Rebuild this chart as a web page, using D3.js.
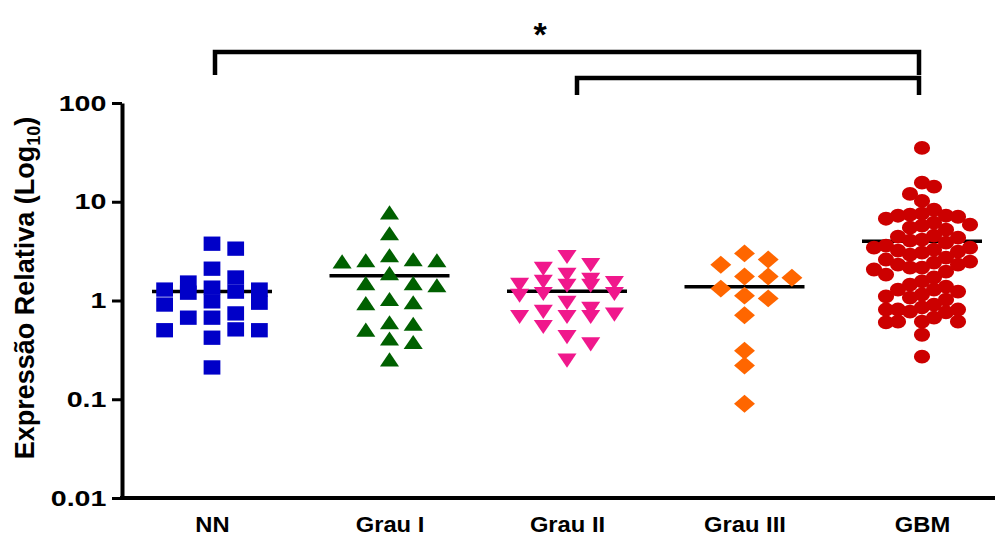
<!DOCTYPE html>
<html>
<head>
<meta charset="utf-8">
<script src="https://cdn.jsdelivr.net/npm/d3@7"></script>
<style>
  body { margin: 0; background: #fff; }
  text { font-family: "Liberation Sans", Arial, sans-serif; font-weight: bold; fill: #000; }
</style>
</head>
<body>
<div id="container"></div>
<script>
// data
let groups = ["NN", "Grau I", "Grau II", "Grau III", "GBM"];
let nnValues = [3.76, 3.35, 2.10, 1.52, 1.71, 1.29, 1.23, 1.20, 1.29, 1.35, 0.98, 0.91, 0.95, 0.67, 0.74, 0.67, 0.51, 0.50, 0.42, 0.50, 0.21];
let grauIValues = [7.39, 4.54, 2.72, 2.42, 2.36, 2.42, 2.48, 1.79, 1.42, 1.42, 1.35, 0.98, 0.89, 0.91, 0.57, 0.48, 0.55, 0.39, 0.36, 0.24];
let grauIIValues = [2.91, 2.21, 2.42, 1.92, 1.71, 1.49, 1.59, 1.63, 1.49, 1.52, 1.18, 1.23, 1.23, 1.00, 0.87, 0.72, 0.76, 0.81, 0.72, 0.72, 0.57, 0.45, 0.38, 0.26];
let grauIIIValues = [3.0, 2.3, 2.6, 1.75, 1.7, 1.75, 1.32, 1.12, 1.05, 0.71, 0.31, 0.22, 0.09];
let gbmValues = [35.1, 15.6, 14.2, 12.0, 10.2, 8.30, 7.57, 7.22, 7.22, 7.05, 7.39, 6.73, 6.14, 5.72, 5.46, 5.21, 5.86,
  4.43, 4.33, 4.13, 3.85, 4.04, 4.53, 3.59, 3.43, 3.27, 3.13, 3.05, 2.91, 3.43, 3.20, 2.60, 2.42, 2.31, 2.31, 2.15,
  2.15, 2.48, 2.06, 2.72, 1.83, 1.56, 1.45, 1.29, 1.23, 1.29, 1.38, 1.07, 1.10, 1.02, 1.15, 0.91, 0.85, 0.81, 0.77,
  0.81, 0.81, 0.76, 0.67, 0.61, 0.61, 0.60, 0.61, 0.45, 0.27, 1.71, 1.96];
let yTicks = [0.01, 0.1, 1, 10, 100];
let yTickLabels = ["0.01", "0.1", "1", "10", "100"];
let yTitle = "Expressão Relativa (Log";
let yTitleSub = "10";
let sigLabel = "*";
// brackets: [from group, to group]
let brackets = [["NN", "GBM"], ["Grau II", "GBM"]];

let w = 999;
let h = 536;
let plotLeft = 122, plotRight = 995, plotTop = 103, plotBottom = 498;
let sx = 1.17; // the figure is a little wider than tall

let viz = d3.select("#container")
  .append("svg")
  .attr("width", w)
  .attr("height", h);

let xScale = d3.scalePoint().domain(groups).range([212, 922]);
let yScale = d3.scaleLog().domain([0.01, 100]).range([plotBottom, plotTop]);

let series = [
  { name: "NN", values: nnValues, color: "#0000c8", shape: "square", step: 23.7, dist: 15 },
  { name: "Grau I", values: grauIValues, color: "#006000", shape: "up", step: 23.7, dist: 14 },
  { name: "Grau II", values: grauIIValues, color: "#f0188c", shape: "down", step: 23.7, dist: 12 },
  { name: "Grau III", values: grauIIIValues, color: "#ff6600", shape: "diamond", step: 23.7, dist: 14 },
  { name: "GBM", values: gbmValues, color: "#cc0000", shape: "circle", step: 12, dist: 12 }
];

// simple column scatter: nearest free slot to the centre
function swarm(values, step, dist) {
  let sorted = values.slice().sort(function (a, b) { return b - a; });
  let placed = [];
  let maxK = Math.round(48 / step);
  let cands = [0];
  for (let k = 1; k <= maxK; k++) { cands.push(k * step, -k * step); }
  sorted.forEach(function (v) {
    let y = yScale(v);
    let best = null, bestGap = -1;
    for (let c of cands) {
      let gap = d3.min(placed, function (p) { return Math.hypot(p.dx - c, p.y - y); });
      if (gap === undefined) gap = Infinity;
      if (gap >= dist) { best = c; bestGap = Infinity; break; }
      if (gap > bestGap) { bestGap = gap; best = c; }
    }
    placed.push({ value: v, dx: best, y: y });
  });
  return placed;
}

function shapePath(shape) {
  if (shape === "square") return d3.symbol(d3.symbolSquare, 205)();
  if (shape === "circle") return d3.symbol(d3.symbolCircle, 150)();
  if (shape === "diamond") return d3.symbol(d3.symbolSquare, 160)();
  return d3.symbol(d3.symbolTriangle, 115)();
}
function shapeRotate(shape) {
  if (shape === "diamond") return 45;
  if (shape === "down") return 180;
  return 0;
}

// mean lines
let meanGroup = viz.append("g").attr("class", "means");
meanGroup.selectAll("line").data(series).enter()
  .append("line")
  .attr("x1", function (d) { return xScale(d.name) - 60; })
  .attr("x2", function (d) { return xScale(d.name) + 60; })
  .attr("y1", function (d) { return yScale(d3.mean(d.values)); })
  .attr("y2", function (d) { return yScale(d3.mean(d.values)); })
  .attr("stroke", "#000")
  .attr("stroke-width", 3.5);

// points
let graphGroup = viz.append("g").attr("class", "graphGroup");
series.forEach(function (s) {
  let pts = swarm(s.values, s.step, s.dist);
  graphGroup.append("g").attr("class", "series")
    .selectAll(".datapoint").data(pts).enter()
    .append("path")
    .attr("class", "datapoint")
    .attr("d", shapePath(s.shape))
    .attr("fill", s.color)
    .attr("transform", function (d) {
      return "translate(" + (xScale(s.name) + d.dx) + "," + d.y + ") scale(" + sx + ",1) rotate(" + shapeRotate(s.shape) + ")";
    });
});

// y axis
let yAxis = d3.axisLeft(yScale)
  .tickValues(yTicks)
  .tickFormat(function (d, i) { return yTickLabels[i]; })
  .tickSize(10)
  .tickSizeOuter(0)
  .tickPadding(2);
let yAxisGroup = viz.append("g")
  .attr("class", "yaxisgroup")
  .attr("transform", "translate(" + plotLeft + ",0)")
  .call(yAxis);
yAxisGroup.select(".domain").attr("stroke-width", 4);
yAxisGroup.selectAll(".tick line").attr("stroke-width", 3);
yAxisGroup.selectAll(".tick text")
  .attr("font-size", 22)
  .attr("font-family", "Liberation Sans, Arial, sans-serif")
  .attr("font-weight", "bold")
  .attr("transform", "scale(1.3,1)");

// x axis
viz.append("line")
  .attr("x1", plotLeft - 2).attr("x2", plotRight)
  .attr("y1", plotBottom).attr("y2", plotBottom)
  .attr("stroke", "#000").attr("stroke-width", 4);
let xAxis = d3.axisBottom(xScale).tickSize(0).tickPadding(18);
let xAxisGroup = viz.append("g")
  .attr("class", "xaxisgroup")
  .attr("transform", "translate(0," + plotBottom + ")")
  .call(xAxis);
xAxisGroup.select(".domain").remove();
xAxisGroup.selectAll(".tick text")
  .attr("font-size", 22)
  .attr("font-family", "Liberation Sans, Arial, sans-serif")
  .attr("font-weight", "bold")
  .attr("transform", "scale(1.08,1)");

// y title
let yTitleText = viz.append("text")
  .attr("transform", "translate(34,288) rotate(-90)")
  .attr("text-anchor", "middle")
  .attr("font-size", 27);
yTitleText.append("tspan").text(yTitle);
yTitleText.append("tspan").attr("font-size", 18).attr("dy", 6).text(yTitleSub);
yTitleText.append("tspan").attr("dy", -6).text(")");

// significance brackets
let bracketTops = [52, 78];
let bracketBottoms = [75, 95];
let bracketShift = [3, 10];
let bracketGroup = viz.append("g").attr("class", "brackets");
brackets.forEach(function (b, i) {
  let x1 = xScale(b[0]) + bracketShift[i], x2 = xScale(b[1]) - 3;
  bracketGroup.append("path")
    .attr("d", "M" + x1 + "," + bracketBottoms[i] + "V" + bracketTops[i] + "H" + x2 + "V" + bracketBottoms[i])
    .attr("fill", "none")
    .attr("stroke", "#000")
    .attr("stroke-width", 4.5);
});
viz.append("text")
  .attr("x", 540)
  .attr("y", 46)
  .attr("text-anchor", "middle")
  .attr("font-size", 34)
  .text(sigLabel);
</script>
</body>
</html>
